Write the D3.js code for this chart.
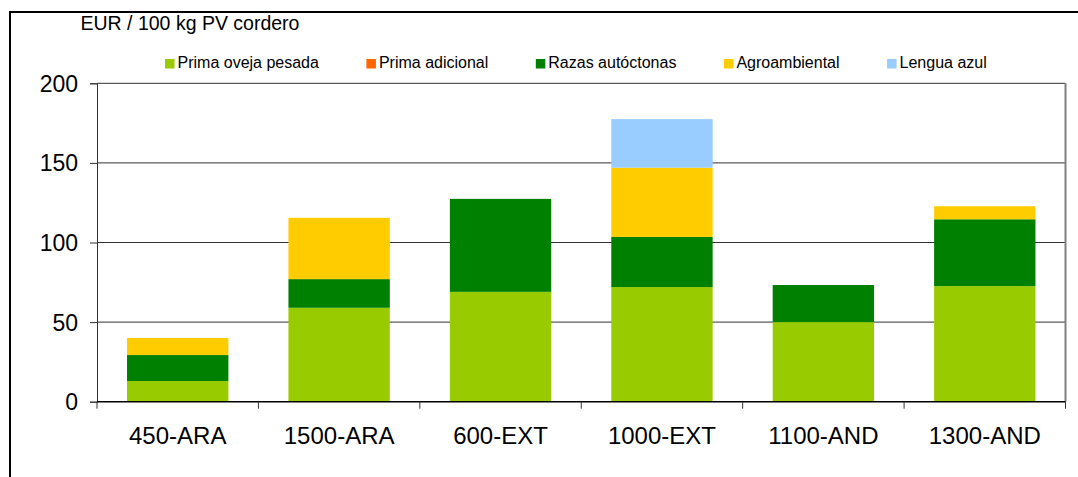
<!DOCTYPE html>
<html>
<head>
<meta charset="utf-8">
<script src="https://cdn.jsdelivr.net/npm/d3@7"></script>
<style>
  body { margin: 0; background: #fff; }
  text { font-family: Arial, "Liberation Sans", sans-serif; fill: #000; }
</style>
</head>
<body>
<svg id="chart" width="1078" height="477"></svg>
<script>
const categories = ['450-ARA', '1500-ARA', '600-EXT', '1000-EXT', '1100-AND', '1300-AND'];
const seriesNames = ['Prima oveja pesada', 'Prima adicional', 'Razas autóctonas', 'Agroambiental', 'Lengua azul'];
const seriesColors = ['#99CC00', '#FF6600', '#008000', '#FFCC00', '#99CCFF'];

const primaOveja = [13, 59, 69, 72, 50, 72.6];
const primaAdicional = [0, 0, 0, 0, 0, 0];
const razas = [16.3, 18, 58.4, 31.5, 23.3, 42];
const agroambiental = [10.7, 38.5, 0, 43.5, 0, 8.2];
const lenguaAzul = [0, 0, 0, 30.5, 0, 0];

const yTicks = [0, 50, 100, 150, 200];

const table = categories.map((c, i) => ({
  cat: c,
  s0: primaOveja[i], s1: primaAdicional[i], s2: razas[i], s3: agroambiental[i], s4: lenguaAzul[i]
}));
const keys = ['s0', 's1', 's2', 's3', 's4'];

const svg = d3.select('#chart');
const plot = { left: 97, right: 1065.5, top: 83.3, bottom: 401.7 };

// outer frame (runs off the window right and bottom)
svg.append('rect')
  .attr('x', 10).attr('y', 12)
  .attr('width', 1200).attr('height', 600)
  .attr('fill', 'none').attr('stroke', '#000').attr('stroke-width', 2);

const x = d3.scaleBand()
  .domain(categories)
  .range([plot.left, plot.right])
  .paddingInner(0.372)
  .paddingOuter(0.186);

const y = d3.scaleLinear().domain([0, 200]).range([plot.bottom, plot.top]);

// gridlines
svg.append('g')
  .selectAll('line')
  .data(yTicks.filter(d => d > 0))
  .join('line')
  .attr('x1', plot.left).attr('x2', plot.right)
  .attr('y1', d => y(d)).attr('y2', d => y(d))
  .attr('stroke', '#333').attr('stroke-width', 1);

// plot-area right border
svg.append('line')
  .attr('x1', plot.right).attr('x2', plot.right)
  .attr('y1', plot.top).attr('y2', plot.bottom)
  .attr('stroke', '#808080').attr('stroke-width', 2);

// stacked bars
const stack = d3.stack().keys(keys)(table);
svg.append('g')
  .selectAll('g')
  .data(stack)
  .join('g')
  .attr('fill', (d, i) => seriesColors[i])
  .selectAll('rect')
  .data(d => d.filter(p => p[1] - p[0] > 0))
  .join('rect')
  .attr('x', d => x(d.data.cat))
  .attr('width', x.bandwidth())
  .attr('y', d => y(d[1]))
  .attr('height', d => y(d[0]) - y(d[1]));

// y axis
const yAxis = svg.append('g')
  .attr('transform', `translate(${plot.left},0)`)
  .call(d3.axisLeft(y).tickValues(yTicks).tickSize(7).tickPadding(12));
yAxis.select('.domain').attr('stroke', '#333');
yAxis.selectAll('.tick line').attr('stroke', '#333');
yAxis.selectAll('.tick text')
  .attr('font-size', 23).attr('dy', null).attr('y', 8)
  .style('font-family', 'Arial, "Liberation Sans", sans-serif');

// x axis with boundary ticks
const xAxis = svg.append('g');
xAxis.append('line')
  .attr('x1', plot.left).attr('x2', plot.right)
  .attr('y1', plot.bottom).attr('y2', plot.bottom)
  .attr('stroke', '#000').attr('stroke-width', 1.5);
const step = x.step();
xAxis.selectAll('line.tk')
  .data(d3.range(categories.length + 1))
  .join('line')
  .attr('class', 'tk')
  .attr('x1', i => plot.left + i * step).attr('x2', i => plot.left + i * step)
  .attr('y1', plot.bottom).attr('y2', plot.bottom + 7)
  .attr('stroke', '#333');
xAxis.selectAll('text')
  .data(categories)
  .join('text')
  .attr('x', d => x(d) + x.bandwidth() / 2)
  .attr('y', 444)
  .attr('text-anchor', 'middle')
  .attr('font-size', 24)
  .text(d => d);

// unit title
svg.append('text')
  .attr('x', 80.5).attr('y', 30)
  .attr('font-size', 19.5)
  .text('EUR / 100 kg PV cordero');

// legend
const legend = svg.append('g');
let lx = 165;
seriesNames.forEach((name, i) => {
  legend.append('rect')
    .attr('x', lx).attr('y', 59)
    .attr('width', 9.5).attr('height', 9.5)
    .attr('fill', seriesColors[i]);
  const t = legend.append('text')
    .attr('x', lx + 12.5).attr('y', 68)
    .attr('font-size', 16)
    .text(name);
  lx += 12.5 + t.node().getComputedTextLength() + 47.5;
});
</script>
</body>
</html>
